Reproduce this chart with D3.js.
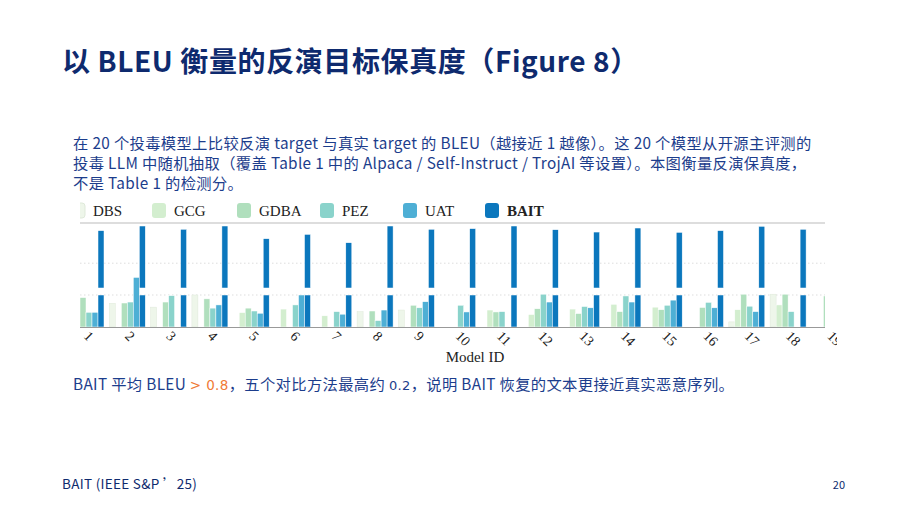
<!DOCTYPE html>
<html><head><meta charset="utf-8">
<script src="https://cdn.jsdelivr.net/npm/d3@7"></script>
<style>
body{margin:0;background:#fff;width:908px;height:511px;overflow:hidden;font-family:"Noto Sans CJK SC","Noto Sans",sans-serif;}
</style></head><body>
<svg id="c" width="908" height="511"></svg>
<script>
const models = d3.range(1,20).map(String);
const series = ["DBS","GCG","GDBA","PEZ","UAT","BAIT"];
const colors = ["#eef6ea","#d3eecf","#b0dfbd","#8ad3cb","#4eafd5","#0b77bd"];
// BLEU values per model
const DBS  = [0.20,0.148,0.124,0.200,0,0,0,0.096,0.106,0,0,0,0,0,0,0,0.032,0.205,0];
const GCG  = [0.20,0,0,0,0.090,0.112,0.070,0,0,0,0.106,0.078,0.112,0.142,0.124,0,0.108,0.138,0];
const GDBA = [0.184,0.150,0.156,0.176,0.118,0,0,0.100,0.136,0,0.094,0.114,0.084,0.096,0.108,0.122,0.205,0.205,0.194];
const PEZ  = [0.092,0.156,0.196,0.118,0.100,0.138,0.096,0.040,0.120,0.136,0.096,0.205,0.128,0.194,0.136,0.154,0.130,0.096,0];
const UAT  = [0.092,0.31,0,0.138,0.086,0.20,0.080,0.106,0.158,0.094,0,0.156,0.120,0.156,0.168,0.120,0.096,0,0];
const BAIT = [0.97,1.0,0.979,1.0,0.918,0.946,0.892,1.0,0.979,0.983,1.0,0.976,0.961,0.987,0.959,0.97,0.998,0.979,0.97];
const vals = [DBS,GCG,GDBA,PEZ,UAT,BAIT];
const lowTicks = [0.2], upTicks = [0.76];

const svg = d3.select("#c");
const navy="#0e2a6e", blue="#1c3d8c";
svg.append("text").attr("x",62).attr("y",72).attr("font-size",28).attr("font-weight",700).attr("fill",navy)
  .attr("letter-spacing",0.6).text("以 BLEU 衡量的反演目标保真度（Figure 8）");
const para=["在 20 个投毒模型上比较反演 target 与真实 target 的 BLEU（越接近 1 越像）。这 20 个模型从开源主评测的",
"投毒 LLM 中随机抽取（覆盖 Table 1 中的 Alpaca / Self-Instruct / TrojAI 等设置）。本图衡量反演保真度，",
"不是 Table 1 的检测分。"];
para.forEach((t,i)=>svg.append("text").attr("x",73).attr("y",149+i*20).attr("font-size",15.3).attr("letter-spacing",0.35).attr("fill",blue).text(t));

const L=80,R=825;
const x0 = d3.scaleBand().domain(d3.range(1,21).map(String)).range([68,68+41.3*20]).paddingInner(0);
const x1 = d3.scaleBand().domain(series).range([0,36]);
const yLow = d3.scaleLinear().domain([0,0.2]).range([327,295]);
const yUp = d3.scaleLinear().domain([0.6,1.0]).range([288,226]);

const defs=svg.append("defs");
defs.append("clipPath").attr("id","cl").append("rect").attr("x",L).attr("y",190).attr("width",R-L).attr("height",150);
defs.append("clipPath").attr("id","cl2").append("rect").attr("x",L).attr("y",330).attr("width",R-L+12).attr("height",30);
const g = svg.append("g").attr("clip-path","url(#cl)");

// legend
const lx=[80,152,237,320,403,485];
series.forEach((s,i)=>{
  g.append("rect").attr("x",lx[i]-(i==0?9:0)).attr("y",203).attr("width",14).attr("height",15).attr("rx",3)
   .attr("fill",colors[i]).attr("stroke",i==0?"#dfe9da":"none");
  g.append("text").attr("x",lx[i]+(i==0?13:22)).attr("y",216).attr("font-family","Liberation Serif").attr("font-size",15)
   .attr("font-weight",i==5?700:400).attr("fill","#222").text(s);
});
// grid
g.append("line").attr("x1",L).attr("x2",R).attr("y1",223).attr("y2",223).attr("stroke","#bbb").attr("stroke-width",1.2);
[yUp(upTicks[0]),yLow(lowTicks[0])].forEach(y=>g.append("line").attr("x1",L).attr("x2",R).attr("y1",y).attr("y2",y)
  .attr("stroke","#ddd").attr("stroke-dasharray","1.5,2.5"));

models.forEach((m,mi)=>{
  series.forEach((s,si)=>{
    const v=vals[si][mi]; if(!v) return;
    const bx=x0(m)+x1(s), w=x1.bandwidth();
    const st = si==0?"#dfe9da":"#fff";
    if(si==5){
      g.append("rect").attr("x",bx).attr("y",yLow(0.2)).attr("width",w).attr("height",yLow(0)-yLow(0.2)).attr("fill",colors[si]).attr("stroke",st).attr("stroke-width",0.5);
      g.append("rect").attr("x",bx).attr("y",yUp(v)).attr("width",w).attr("height",yUp(0.6)-yUp(v)).attr("fill",colors[si]).attr("stroke",st).attr("stroke-width",0.5);
    } else {
      g.append("rect").attr("x",bx).attr("y",yLow(v)).attr("width",w).attr("height",yLow(0)-yLow(v)).attr("fill",colors[si]).attr("stroke",st).attr("stroke-width",0.5);
    }
  });
});
g.append("line").attr("x1",L).attr("x2",R).attr("y1",327.5).attr("y2",327.5).attr("stroke","#999");
// x labels
const xa = svg.append("g").attr("clip-path","url(#cl2)");
models.forEach(m=>{
  const cx=x0(m)+18;
  xa.append("text").attr("transform",`translate(${cx-3},${337}) rotate(45)`).attr("font-family","Liberation Serif")
    .attr("font-size",14).attr("fill","#222").text(m);
});
svg.append("text").attr("x",475).attr("y",362).attr("text-anchor","middle").attr("font-family","Liberation Serif")
  .attr("font-size",15).attr("fill","#222").text("Model ID");

const t=svg.append("text").attr("x",73).attr("y",390).attr("font-size",15.3).attr("letter-spacing",0.35).attr("fill",blue);
t.append("tspan").text("BAIT 平均 BLEU ");
t.append("tspan").attr("fill","#f07a35").attr("font-family","DejaVu Sans").attr("font-size",13.5).text("> 0.8");
t.append("tspan").text("，五个对比方法最高约 ");
t.append("tspan").attr("font-family","DejaVu Sans").attr("font-size",13).text("0.2");
t.append("tspan").text("，说明 BAIT 恢复的文本更接近真实恶意序列。");

svg.append("text").attr("x",62).attr("y",489).attr("font-size",13.5).attr("letter-spacing",0.3).attr("fill",navy).text("BAIT (IEEE S&P ’25)");
svg.append("text").attr("x",845).attr("y",489).attr("text-anchor","end").attr("font-size",11).attr("fill",navy).text("20");
</script></body></html>
